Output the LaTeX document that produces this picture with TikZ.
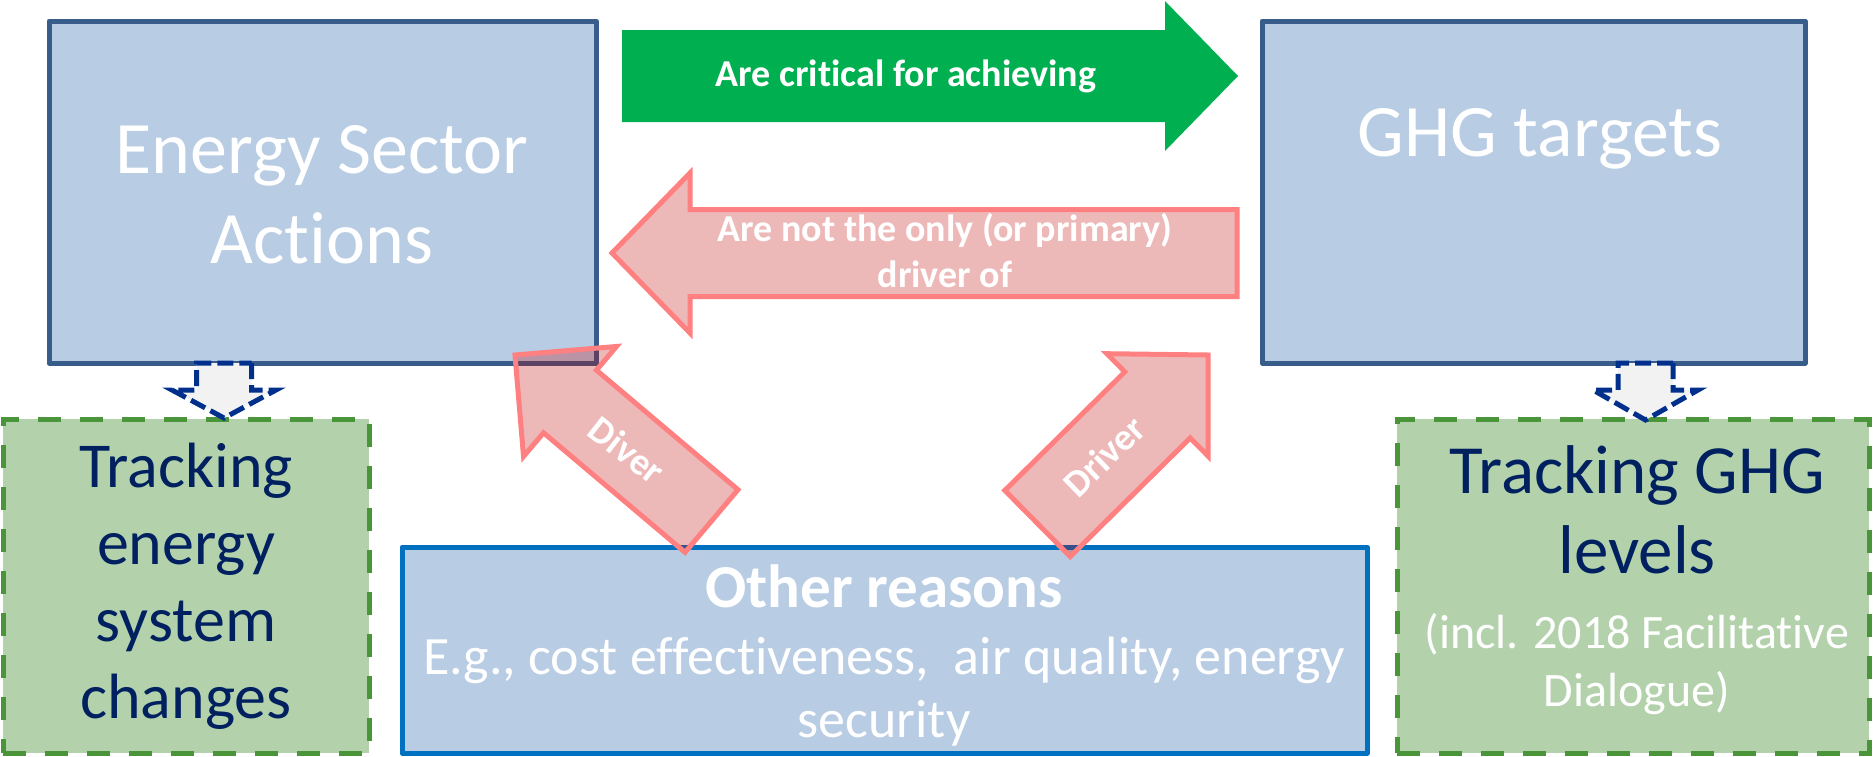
\documentclass[tikz,border=0pt]{standalone}
\usepackage{fontspec}
\setmainfont{Carlito}[Ligatures=NoCommon]
\usetikzlibrary{calc}

\definecolor{boxfill}{RGB}{184,204,228}
\definecolor{boxline}{RGB}{56,93,138}
\definecolor{otherline}{RGB}{0,112,192}
\definecolor{trackfill}{RGB}{179,210,172}
\definecolor{trackline}{RGB}{74,148,58}
\definecolor{navytext}{RGB}{0,32,96}
\definecolor{dashblue}{RGB}{0,48,140}
\definecolor{critgreen}{RGB}{0,176,80}
\definecolor{pinkline}{RGB}{255,128,128}
\definecolor{pinkfill}{RGB}{192,0,0}

% block arrow: [style]{tail}{tip}{shaft half width}{head half width}{head length}
\newcommand{\blockarrow}[6][]{%
  \coordinate (bah) at ($(#3)!#6!(#2)$);
  \draw[#1] ($(#2)!#4!90:(#3)$) -- ($(bah)!#4!90:(#3)$) -- ($(bah)!#5!90:(#3)$)
    -- (#3) -- ($(bah)!#5!-90:(#3)$) -- ($(bah)!#4!-90:(#3)$) -- ($(#2)!#4!-90:(#3)$) -- cycle;
}

\begin{document}
\begin{tikzpicture}[x=0.5pt,y=-0.5pt,
  bluebox/.style={draw=boxline,fill=boxfill,line width=2.5pt,line join=round,inner sep=0pt},
  trackbox/.style={draw=trackline,fill=trackfill,line width=2.5pt,dash pattern=on 11.5pt off 9.5pt,inner sep=0pt},
  dasharrow/.style={draw=dashblue,fill=black!5,line width=2.5pt,dash pattern=on 8pt off 3pt},
  pinkarrow/.style={draw=pinkline,line width=2.5pt,fill=pinkfill,fill opacity=0.28},
  bigtext/.style={text=white,align=center,inner sep=0pt,font=\fontsize{37}{45}\selectfont},
  tracktext/.style={text=navytext,align=center,inner sep=0pt,font=\fontsize{32}{38.5}\selectfont},
  notetext/.style={text=white,align=center,inner sep=0pt,font=\fontsize{24}{29}\selectfont},
  arrowtext/.style={text=white,align=center,inner sep=0pt,font=\bfseries\fontsize{19}{23}\selectfont}]
\useasboundingbox (0,0) rectangle (1874,756);

\node[bluebox,minimum width=273.5pt,minimum height=171pt] (energy) at (322.5,192) {};
\node[bluebox,minimum width=271.5pt,minimum height=171pt] (ghg) at (1533.5,192) {};
\node[trackbox,minimum width=183pt,minimum height=167pt] (trackE) at (186,586) {};
\node[trackbox,minimum width=236pt,minimum height=167pt] (trackG) at (1633,586) {};
\node[bluebox,draw=otherline,minimum width=482.5pt,minimum height=103pt] (other) at (884.5,650) {};

\coordinate (dashETop) at (224,363);
\coordinate (dashETip) at (224,418);
\coordinate (dashGTop) at (1645.5,363);
\coordinate (dashGTip) at (1645.5,420);
\blockarrow[dasharrow]{dashETop}{dashETip}{13.75pt}{26pt}{14pt}
\blockarrow[dasharrow]{dashGTop}{dashGTip}{13.75pt}{26.25pt}{15pt}

\coordinate (critTail) at (622,76);
\coordinate (critTip) at (1238,76);
\blockarrow[draw=none,fill=critgreen]{critTail}{critTip}{23pt}{37.5pt}{36.5pt}

\coordinate (notTail) at (1237,253);
\coordinate (notTip) at (612,253);
\blockarrow[pinkarrow]{notTail}{notTip}{21.75pt}{40pt}{39pt}

\coordinate (diverTail) at (711.5,521);
\coordinate (diverTip) at (515,355);
\blockarrow[pinkarrow]{diverTail}{diverTip}{20.5pt}{36pt}{36pt}

\coordinate (driverTail) at (1037.5,523.5);
\coordinate (driverTip) at (1208,355);
\blockarrow[pinkarrow]{driverTail}{driverTip}{23.25pt}{36pt}{35.5pt}

\node[bigtext,anchor=base] (energyTxt) at (322,263) {Energy Sector\\Actions};
\node[bigtext,anchor=base] (ghgTxt) at (1540,156) {GHG targets};
\node[tracktext,anchor=base] (trackETxt) at (186,718) {Tracking\\energy\\system\\changes};
\node[tracktext,anchor=base,font=\fontsize{34.5}{40}\selectfont] (trackGTxt) at (1637,573) {Tracking GHG\\levels};
\node[notetext,anchor=base] (noteTxt) at (1637,706) {(incl. 2018 Facilitative\\Dialogue)};
\node[text=white,inner sep=0pt,anchor=base,font=\bfseries\fontsize{30.5}{37}\selectfont] (otherTxt) at (884,607) {Other reasons};
\node[text=white,align=center,inner sep=0pt,anchor=base,font=\fontsize{27}{31.5}\selectfont] (egTxt) at (884,737) {E.g., cost effectiveness,\ \ air quality, energy\\security};

\node[arrowtext,anchor=base] (critTxt) at (906,86) {Are critical for achieving};
\node[arrowtext,anchor=base] (notTxt) at (945,287) {Are not the only (or primary)\\driver of};
\node[arrowtext,rotate=-38] (diverTxt) at (627,450) {Diver};
\node[arrowtext,rotate=44] (driverTxt) at (1104,456) {Driver};
\end{tikzpicture}
\end{document}
